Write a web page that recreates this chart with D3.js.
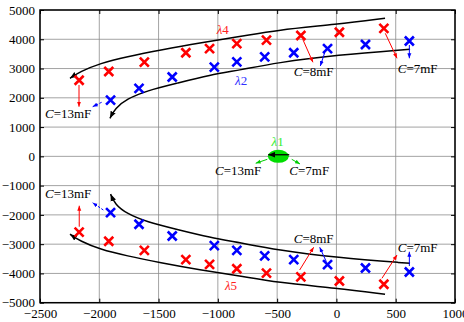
<!DOCTYPE html>
<html>
<head>
<meta charset="utf-8">
<script src="https://cdn.jsdelivr.net/npm/d3@7"></script>
<style>
  body { margin: 0; background: #fff; }
  text { font-family: "Liberation Serif", "Times New Roman", serif; }
</style>
</head>
<body>
<div id="chart"></div>
<script>
// eigenvalue traces for C = 13mF .. 7mF
const redUpX = [-2170, -1920, -1620, -1270, -1070, -840, -590, -300, 25, 400];
const redUpY = [2600, 2900, 3220, 3540, 3680, 3850, 3970, 4130, 4240, 4370];
const blueUpX = [-1905, -1665, -1385, -1030, -840, -605, -360, -75, 245, 615];
const blueUpY = [1920, 2320, 2710, 3050, 3230, 3400, 3540, 3680, 3820, 3940];
const redLowX = [-2170, -1920, -1620, -1270, -1070, -840, -590, -300, 25, 400];
const redLowY = [-2590, -2900, -3210, -3530, -3690, -3840, -3990, -4120, -4260, -4370];
const blueLowX = [-1905, -1665, -1385, -1030, -840, -605, -360, -75, 245, 615];
const blueLowY = [-1920, -2320, -2720, -3050, -3210, -3400, -3530, -3700, -3815, -3950];

// trend curves (drawn from the arrow end)
const outerUpX = [-2247, -2163, -1994, -1769, -1488, -1151, -813, -504, 2, 410];
const outerUpY = [2667, 2892, 3179, 3405, 3633, 3883, 4088, 4317, 4511, 4716];
const innerUpX = [-1910, -1867, -1769, -1600, -1347, -1066, -813, -504, 2, 621];
const innerUpY = [1300, 1642, 1959, 2243, 2496, 2779, 2950, 3200, 3463, 3657];
const outerLowX = [-2247, -2163, -1994, -1769, -1488, -1151, -813, -504, 2, 410];
const outerLowY = [-2660, -2890, -3175, -3400, -3630, -3880, -4085, -4310, -4505, -4710];
const innerLowX = [-1905, -1867, -1769, -1600, -1347, -1066, -813, -504, 2, 621];
const innerLowY = [-1290, -1640, -1955, -2240, -2495, -2775, -2950, -3195, -3460, -3655];

const xTicks = [-2500, -2000, -1500, -1000, -500, 0, 500, 1000];
const yTicks = [5000, 4000, 3000, 2000, 1000, 0, -1000, -2000, -3000, -4000, -5000];

const width = 464;
const height = 322;
const margin = { top: 10, right: 9, bottom: 19.3, left: 40 };

const svg = d3.select("#chart")
  .append("svg")
  .attr("width", width)
  .attr("height", height);

const x = d3.scaleLinear().domain([-2500, 1000]).range([margin.left, width - margin.right]);
const y = d3.scaleLinear().domain([-5000, 5000]).range([height - margin.bottom, margin.top]);

// arrow heads
const defs = svg.append("defs");
function arrowHead(id, color, size) {
  defs.append("marker")
    .attr("id", id)
    .attr("viewBox", "0 -5 10 10")
    .attr("refX", 10)
    .attr("refY", 0)
    .attr("markerUnits", "userSpaceOnUse")
    .attr("markerWidth", size)
    .attr("markerHeight", size)
    .attr("orient", "auto-start-reverse")
    .append("path")
    .attr("d", "M0,-4L10,0L0,4Z")
    .attr("fill", color);
}
arrowHead("ah-black", "#000", 7);
arrowHead("ah-red", "#f00", 5);
arrowHead("ah-blue", "#00f", 5);
arrowHead("ah-green", "#0c0", 5);

// grid
svg.append("g")
  .selectAll("line")
  .data(xTicks)
  .join("line")
  .attr("x1", d => x(d)).attr("x2", d => x(d))
  .attr("y1", y(5000)).attr("y2", y(-5000))
  .attr("stroke", "#8c8c8c").attr("stroke-width", 0.8);
svg.append("g")
  .selectAll("line")
  .data(yTicks)
  .join("line")
  .attr("x1", x(-2500)).attr("x2", x(1000))
  .attr("y1", d => y(d)).attr("y2", d => y(d))
  .attr("stroke", "#8c8c8c").attr("stroke-width", 0.8);

// axes
const axisB = svg.append("g")
  .attr("transform", `translate(0,${y(-5000)})`)
  .call(d3.axisBottom(x).tickValues(xTicks).tickSize(-4).tickPadding(6).tickFormat(d3.format("d")));
const axisL = svg.append("g")
  .attr("transform", `translate(${x(-2500)},0)`)
  .call(d3.axisLeft(y).tickValues(yTicks).tickSize(-4).tickPadding(4).tickFormat(d3.format("d")));
svg.append("g")
  .attr("transform", `translate(0,${y(5000)})`)
  .call(d3.axisTop(x).tickValues(xTicks).tickSize(-4).tickFormat(""));
svg.append("g")
  .attr("transform", `translate(${x(1000)},0)`)
  .call(d3.axisRight(y).tickValues(yTicks).tickSize(-4).tickFormat(""));

svg.selectAll(".domain").remove();
svg.selectAll(".tick line").attr("stroke", "#000").attr("stroke-width", 1);
[axisB, axisL].forEach(a => a.selectAll("text")
  .attr("font-family", "'Liberation Serif', serif")
  .attr("font-size", 13)
  .attr("fill", "#000"));
axisL.selectAll("text").attr("dx", "-1");

svg.append("rect")
  .attr("x", x(-2500)).attr("y", y(5000))
  .attr("width", x(1000) - x(-2500))
  .attr("height", y(-5000) - y(5000))
  .attr("fill", "none").attr("stroke", "#000").attr("stroke-width", 1.5);

// curves
const line = d3.line().x(d => x(d[0])).y(d => y(d[1])).curve(d3.curveBasis);
const curves = [
  [outerUpX, outerUpY], [innerUpX, innerUpY],
  [outerLowX, outerLowY], [innerLowX, innerLowY]
];
svg.append("g")
  .selectAll("path")
  .data(curves.map(([xs, ys]) => xs.map((v, i) => [v, ys[i]])))
  .join("path")
  .attr("d", line)
  .attr("fill", "none")
  .attr("stroke", "#000")
  .attr("stroke-width", 1.5)
  .attr("marker-start", "url(#ah-black)");

// cross markers
function crosses(xs, ys, color) {
  const s = 4.5;
  svg.append("g")
    .selectAll("path")
    .data(xs.map((v, i) => [v, ys[i]]))
    .join("path")
    .attr("d", d => {
      const cx = x(d[0]), cy = y(d[1]);
      return `M${cx - s},${cy - s}L${cx + s},${cy + s}M${cx - s},${cy + s}L${cx + s},${cy - s}`;
    })
    .attr("stroke", color)
    .attr("stroke-width", 2.6)
    .attr("fill", "none");
}
crosses(redUpX, redUpY, "#f00");
crosses(blueUpX, blueUpY, "#00f");
crosses(redLowX, redLowY, "#f00");
crosses(blueLowX, blueLowY, "#00f");

// annotation arrows: [x1, y1, x2, y2, color, dashed]
const arrows = [
  [-2171, 2438, -2171, 1696, "red", false],
  [-1980, 1847, -2056, 1696, "blue", true],
  [-284, 3999, -198, 3213, "red", false],
  [-99, 3541, -136, 3087, "blue", false],
  [412, 4204, 511, 3350, "red", false],
  [615, 3804, 615, 3350, "blue", false],
  [-2169, -2404, -2169, -1686, "red", false],
  [-1966, -1833, -2056, -1584, "blue", true],
  [-310, -3883, -192, -3107, "red", false],
  [-85, -3599, -141, -3107, "blue", false],
  [384, -4166, 511, -3370, "red", false],
  [615, -3746, 615, -3258, "blue", false],
  [-583, -101, -681, -237, "green", false],
  [-377, -101, -307, -261, "green", false]
];
const colorOf = { red: "#f00", blue: "#00f", green: "#0c0" };

// lambda 1 blob
svg.append("ellipse")
  .attr("cx", x(-490)).attr("cy", y(0))
  .attr("rx", 10.5).attr("ry", 6.5)
  .attr("fill", "#00dd00");
svg.append("line")
  .attr("x1", x(-398)).attr("y1", y(55))
  .attr("x2", x(-575)).attr("y2", y(55))
  .attr("stroke", "#000").attr("stroke-width", 1.3)
  .attr("marker-end", "url(#ah-black)");

svg.append("g")
  .selectAll("line")
  .data(arrows)
  .join("line")
  .attr("x1", d => x(d[0])).attr("y1", d => y(d[1]))
  .attr("x2", d => x(d[2])).attr("y2", d => y(d[3]))
  .attr("stroke", d => colorOf[d[4]])
  .attr("stroke-width", 1)
  .attr("stroke-dasharray", d => d[5] ? "2.5,1.5" : null)
  .attr("marker-end", d => `url(#ah-${d[4]})`);

// capacitance labels
const capLabels = [
  [-2458, 1300, "13mF"], [-360, 2745, "8mF"], [517, 2858, "7mF"],
  [-1024, -637, "13mF"], [-397, -637, "7mF"],
  [-2458, -1433, "13mF"], [-360, -2971, "8mF"], [517, -3258, "7mF"]
];
const cap = svg.append("g")
  .selectAll("text")
  .data(capLabels)
  .join("text")
  .attr("x", d => x(d[0]))
  .attr("y", d => y(d[1]))
  .attr("font-size", 13)
  .attr("fill", "#000");
cap.append("tspan").attr("font-style", "italic").text("C");
cap.append("tspan").text(d => "=" + d[2]);

// eigenvalue labels
const lamLabels = [
  [-1010, 4180, "4", "#ff2020"],
  [-855, 2438, "2", "#3030ff"],
  [-547, 354, "1", "#30ee30"],
  [-940, -4580, "5", "#ff2020"]
];
const lam = svg.append("g")
  .selectAll("text")
  .data(lamLabels)
  .join("text")
  .attr("x", d => x(d[0]))
  .attr("y", d => y(d[1]))
  .attr("font-size", 13)
  .attr("fill", d => d[3]);
lam.append("tspan").attr("font-style", "italic").text("λ");
lam.append("tspan").text(d => d[2]);
</script>
</body>
</html>
